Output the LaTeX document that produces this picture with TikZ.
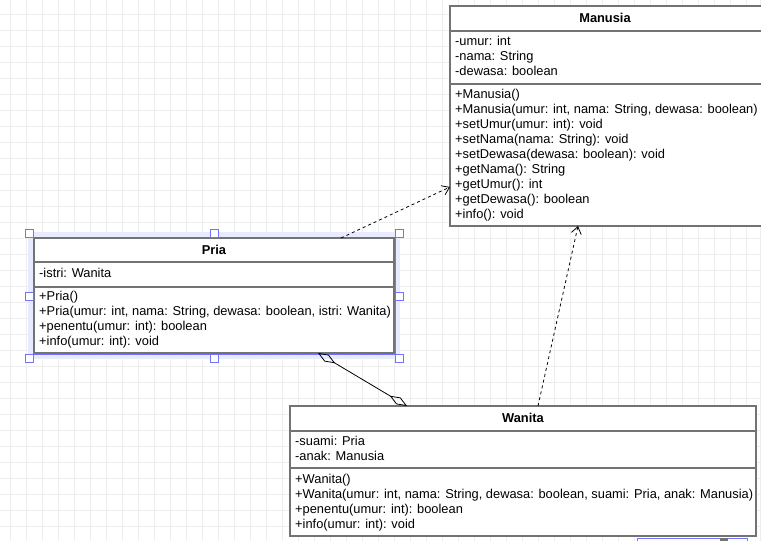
\documentclass[tikz,border=0pt]{standalone}
\usepackage{fontspec}
\setmainfont{Liberation Sans}
\usetikzlibrary{arrows.meta}

\definecolor{gridline}{HTML}{EDEDED}
\definecolor{boxline}{HTML}{737373}
\definecolor{selblue}{HTML}{7373FF}
\definecolor{selglow}{HTML}{E6ECFD}

\tikzset{
  classbox/.style={draw=boxline, line width=1.6pt, fill=white, anchor=north west, inner sep=0pt, outer sep=0pt},
  classtitle/.style={font=\fontsize{12.85}{15}\selectfont\bfseries, inner sep=0pt},
  member/.style={font=\fontsize{12.85}{15}\selectfont, anchor=west, inner sep=0pt, text height=10pt, text depth=2pt},
  handle/.style={draw=selblue, fill=white, line width=0.9pt, minimum size=8pt, inner sep=0pt},
  realize/.style={draw, line width=0.8pt, dash pattern=on 3pt off 3pt, -{Straight Barb[length=7pt,width=10pt]}},
  assoc/.style={draw, line width=0.8pt, {Diamond[open,length=20pt,width=8pt]}-{Diamond[open,length=20pt,width=8pt]}},
}

\begin{document}
\begin{tikzpicture}[x=1pt, y=-1pt]
  \useasboundingbox (0,0) rectangle (761,541);
  \clip (0,0) rectangle (761,541);

  % Canvas grid
  \fill[white] (0,0) rectangle (761,541);
  \foreach \k in {0,...,46}
    \draw[gridline, line width=1pt] (10.7+16*\k,0) -- (10.7+16*\k,541);
  \foreach \k in {0,...,33}
    \draw[gridline, line width=1pt] (0,14+16*\k) -- (761,14+16*\k);
  \draw[gridline, line width=1pt] (760.5,0) -- (760.5,541);

  % Class Manusia
  \node[classbox, minimum width=315pt, minimum height=220pt] (manusia) at (450,6) {};
  \draw[boxline, line width=1.6pt] ([yshift=-25pt]manusia.north west) -- ([yshift=-25pt]manusia.north east);
  \draw[boxline, line width=1.6pt] ([yshift=-78pt]manusia.north west) -- ([yshift=-78pt]manusia.north east);
  \node[classtitle] (manusia-name) at (605,18) {Manusia};
  \foreach \m [count=\i from 0] in {-umur: int, -nama: String, -dewasa: boolean}
    \node[member] (manusia-attr\i) at (455,41+15*\i) {\m};
  \foreach \m [count=\i from 0] in {+Manusia(),
      {+Manusia(umur: int, nama: String, dewasa: boolean)},
      +setUmur(umur: int): void, +setNama(nama: String): void,
      +setDewasa(dewasa: boolean): void, +getNama(): String,
      +getUmur(): int, +getDewasa(): boolean, +info(): void}
    \node[member] (manusia-op\i) at (455,94+15*\i) {\m};

  % Class Pria (selected)
  \fill[selglow] (28,232) rectangle (400,359);
  \draw[selblue, line width=0.9pt] (33.5,237.5) rectangle (395.3,354.6);
  \node[classbox, minimum width=360pt, minimum height=115pt] (pria) at (34,238) {};
  \draw[boxline, line width=1.6pt] ([yshift=-24pt]pria.north west) -- ([yshift=-24pt]pria.north east);
  \draw[boxline, line width=1.6pt] ([yshift=-49pt]pria.north west) -- ([yshift=-49pt]pria.north east);
  \node[classtitle] (pria-name) at (214,250) {Pria};
  \node[member] (pria-attr0) at (39,273) {-istri: Wanita};
  \foreach \m [count=\i from 0] in {+Pria(),
      {+Pria(umur: int, nama: String, dewasa: boolean, istri: Wanita)},
      +penentu(umur: int): boolean, +info(umur: int): void}
    \node[member] (pria-op\i) at (39,296+15*\i) {\m};

  % Class Wanita
  \node[classbox, minimum width=466pt, minimum height=130pt] (wanita) at (290,406) {};
  \draw[boxline, line width=1.6pt] ([yshift=-25pt]wanita.north west) -- ([yshift=-25pt]wanita.north east);
  \draw[boxline, line width=1.6pt] ([yshift=-62pt]wanita.north west) -- ([yshift=-62pt]wanita.north east);
  \node[classtitle] (wanita-name) at (523,418) {Wanita};
  \foreach \m [count=\i from 0] in {-suami: Pria, -anak: Manusia}
    \node[member] (wanita-attr\i) at (295,441+15*\i) {\m};
  \foreach \m [count=\i from 0] in {+Wanita(),
      {+Wanita(umur: int, nama: String, dewasa: boolean, suami: Pria, anak: Manusia)},
      +penentu(umur: int): boolean, +info(umur: int): void}
    \node[member] (wanita-op\i) at (295,479+15*\i) {\m};

  % Relations
  \draw[realize] ([xshift=307pt]pria.north west) -- ([yshift=-181pt]manusia.north west);
  \draw[realize] ([xshift=248pt]wanita.north west) -- ([xshift=128pt]manusia.south west);
  \draw[assoc] ([xshift=284pt]pria.south west) -- ([xshift=117pt]wanita.north west);

  % Selection handles
  \foreach \hx/\hy [count=\i] in {29/233, 214/233, 399/233, 29/296, 399/296, 29/358, 214/358, 399/358}
    \node[handle] (handle\i) at (\hx,\hy) {};

  % Partly hidden shape at the lower edge
  \draw[selblue, fill=white, line width=0.9pt] (637,538) rectangle (747,552);
  \fill[boxline] (720,537.5) rectangle (728,541);
\end{tikzpicture}
\end{document}
